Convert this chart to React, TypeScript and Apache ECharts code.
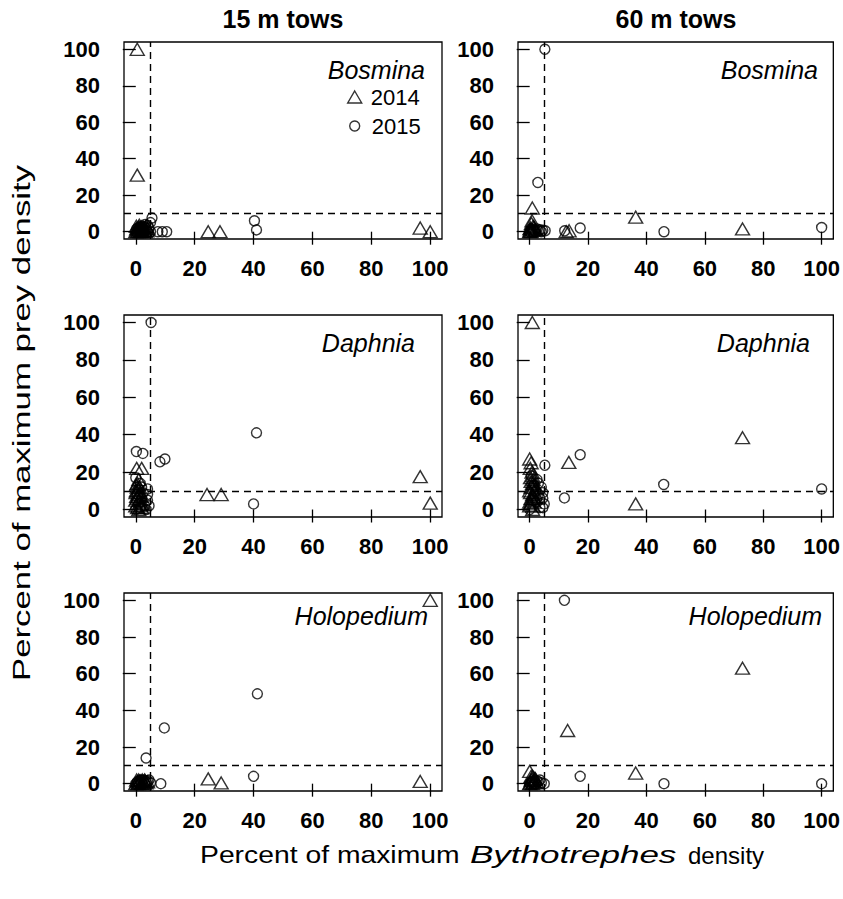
import React, { useEffect, useRef } from 'react';
import * as echarts from 'echarts';

// ---- tick labels / categories ----
const tickValues = [0, 20, 40, 60, 80, 100];
const columnTitles = ['15 m tows', '60 m tows'];
const taxa = ['Bosmina', 'Daphnia', 'Holopedium'];
const years = ['2014', '2015'];
const preyThreshold = 10;
const bythoThreshold = [5, 5];

// ---- data: [percent of max Bythotrephes density, percent of max prey density] ----
const bosmina15m2014 = [[0.5, 100], [0.5, 31], [24.6, 0], [28.6, 0], [96.6, 2], [100, 0], [0, 0], [0.5, 0.5], [1, 1], [1.5, 0], [2, 1.5], [2.5, 2.5], [3, 1], [3.5, 3], [1, 2.5], [0.3, 1.5], [2, 0], [4, 2], [0.2, 3], [1.2, 3.5], [2.2, 0.5], [2.8, 2], [3.2, 0], [0.8, 0], [1.8, 2.8], [3.8, 0.5]];
const bosmina15m2015 = [[7.5, 0], [9, 0], [10.5, 0], [40.3, 6], [41, 1], [0, 0], [0.5, 0], [1, 0.5], [1.5, 1], [2, 0.5], [2.5, 1.5], [3, 2.5], [3.5, 1], [4, 3.5], [4.5, 2], [5, 5], [5.5, 7.5], [5, 0], [4, 0], [0.3, 1.5], [1.2, 2.5], [2.2, 3], [3.2, 4], [2.8, 0], [1.8, 0], [0.8, 2]];
const bosmina60m2014 = [[0.9, 13], [0, 0], [0.3, 2], [0.6, 4.5], [1, 1], [1.5, 2.5], [0.2, 0.5], [12.5, 0], [13.5, 0.5], [36.3, 8], [72.9, 1.5], [0.5, 0], [1.2, 3], [0.8, 6], [2, 1], [0.1, 1.5]];
const bosmina60m2015 = [[5.2, 100], [2.8, 27], [3, 0.5], [5.3, 0.5], [4, 0], [2, 0], [1, 0], [0, 0], [12, 0.5], [17.3, 2], [46, 0], [100, 2.3], [0.5, 1.5], [1.5, 0.8], [2.5, 1.5], [3.5, 1], [4.5, 0.8]];

const daphnia15m2014 = [[24.2, 8], [29, 8], [96.6, 17.6], [100, 3.4], [0.3, 22], [2, 22], [0.5, 14], [0.2, 10], [1, 8], [0.5, 6], [1.5, 4], [0, 2], [1, 0], [2, 1], [0, 5], [1.5, 9], [2.5, 3], [0.5, 12], [1, 16], [0.2, 13], [1.2, 12], [0.8, 10], [1.8, 7], [0.3, 7], [1.2, 5], [2, 3], [0.6, 1], [1.6, 2], [0.1, 9]];
const daphnia15m2015 = [[5.2, 100], [0.2, 31], [2.4, 30], [8.2, 25.5], [9.9, 27], [41, 41], [40, 3], [0, 17], [0.5, 8], [1, 3], [2, 6], [3, 2], [4, 5], [4, 8], [3.5, 0], [0, 0], [2, 12], [4.5, 2], [1, 11], [1.5, 14], [0.2, 5], [1.5, 1], [2.5, 9], [4, 11]];
const daphnia60m2014 = [[0.9, 100], [13.4, 25.2], [36.3, 3], [72.9, 38.4], [0, 27], [0.5, 25], [0.8, 20], [0.3, 17], [1, 14], [0.5, 12], [0, 10], [1, 8], [0.5, 6], [1.5, 4], [0, 2], [1, 0], [2, 11], [0, 4], [0.2, 22], [1, 18], [1.2, 16], [0.5, 15], [1, 12], [0.3, 9], [1.3, 7], [0.8, 5], [0.2, 3], [1.2, 2], [1.8, 13], [1.8, 9], [1.8, 6]];
const daphnia60m2015 = [[5.2, 23.7], [11.9, 6.2], [17.3, 29.3], [45.9, 13.4], [100, 11], [4.5, 9], [4.5, 6], [5, 3], [3, 14], [2, 10], [0, 0], [1, 5], [3.5, 1], [0.5, 18], [2.5, 16], [3, 8], [4, 12], [1.5, 13], [2.5, 4], [4.5, 1], [3.5, 6]];

const holopedium15m2014 = [[100, 100], [24.6, 2.6], [29, 0.4], [96.6, 1.2], [0, 0], [0.5, 1], [1, 0.5], [1.5, 1.5], [2, 0], [2.5, 1], [3, 2], [3.5, 0.5], [4, 1], [1, 2], [0.3, 2], [1.2, 1], [2.2, 2], [3.2, 1.5], [0.8, 0], [2.8, 0]];
const holopedium15m2015 = [[41.3, 49], [9.7, 30.4], [3.5, 14], [40, 4], [8.5, 0], [0, 0], [1, 0.5], [2, 1], [3, 0.3], [4, 1.5], [5, 0.5], [2.5, 2], [0.5, 1], [1.5, 2], [3.5, 1], [4.5, 2]];
const holopedium60m2014 = [[72.9, 63], [13, 29], [36.3, 5.8], [0, 6.7], [0, 0], [0.5, 2], [1, 4], [1.5, 1], [0.3, 0.5], [2, 2.5], [1, 0], [0.8, 2.5], [1.2, 1.5], [0.5, 4], [2.5, 0.5], [1.8, 3]];
const holopedium60m2015 = [[11.9, 100], [17.3, 4], [46, 0], [100, 0], [3, 1], [5, 0], [2, 0], [1, 1], [0, 0], [4, 0.5], [2.5, 1.5], [3.5, 2], [1.5, 0.3], [0.5, 1]];

const panelData = [
  [[bosmina15m2014, bosmina15m2015], [bosmina60m2014, bosmina60m2015]],
  [[daphnia15m2014, daphnia15m2015], [daphnia60m2014, daphnia60m2015]],
  [[holopedium15m2014, holopedium15m2015], [holopedium60m2014, holopedium60m2015]],
];

// ---- layout ----
const gridLeft = [124, 518];
const gridWidth = [318, 319];
const gridTop = [42, 315, 593];
const gridHeight = [197, 202, 198];
const labelRight = [[425, 818], [415, 810], [428, 822]];
const labelY = [70, 343, 616];
const FONT = '"Liberation Sans", Arial, sans-serif';

export default function App() {
  const ref = useRef<HTMLDivElement>(null);
  useEffect(() => {
    const chart = echarts.init(ref.current!, null, { renderer: 'svg' });
    const grids: any[] = [];
    const xAxes: any[] = [];
    const yAxes: any[] = [];
    const series: any[] = [];
    const graphics: any[] = [];
    let idx = 0;
    for (let r = 0; r < 3; r++) {
      for (let c = 0; c < 2; c++) {
        grids.push({
          left: gridLeft[c], top: gridTop[r], width: gridWidth[c], height: gridHeight[r],
          show: true, borderColor: '#000', borderWidth: 1.3, backgroundColor: 'transparent',
        });
        const tickStyle = { show: true, length: 13, inside: false, lineStyle: { color: '#000', width: 1.3 }, customValues: tickValues };
        const labelStyle = { customValues: tickValues, color: '#000', fontFamily: FONT, fontSize: 22, fontWeight: 'bold' };
        xAxes.push({
          type: 'value', gridIndex: idx, min: -4, max: 104,
          axisLine: { show: false }, splitLine: { show: false },
          axisTick: tickStyle,
          axisLabel: { ...labelStyle, margin: 18 },
        });
        yAxes.push({
          type: 'value', gridIndex: idx, min: -4, max: 104,
          axisLine: { show: false }, splitLine: { show: false },
          axisTick: tickStyle,
          axisLabel: { ...labelStyle, margin: 24 },
        });
        const [d14, d15] = panelData[r][c];
        series.push({
          type: 'scatter', name: years[0], xAxisIndex: idx, yAxisIndex: idx, data: d14,
          symbol: 'triangle', symbolSize: [14, 12],
          itemStyle: { color: 'rgba(0,0,0,0)', borderColor: '#000', borderWidth: 1.4 },
          silent: true,
          markLine: {
            silent: true, symbol: ['none', 'none'], label: { show: false },
            lineStyle: { color: '#000', type: [7, 5], width: 1.4 },
            data: [{ xAxis: bythoThreshold[c] }, { yAxis: preyThreshold }],
          },
        });
        series.push({
          type: 'scatter', name: years[1], xAxisIndex: idx, yAxisIndex: idx, data: d15,
          symbol: 'circle', symbolSize: 10,
          itemStyle: { color: 'rgba(0,0,0,0)', borderColor: '#000', borderWidth: 1.4 },
          silent: true,
        });
        graphics.push({
          type: 'text', x: labelRight[r][c], y: labelY[r],
          style: { text: taxa[r], textAlign: 'right', textVerticalAlign: 'middle', font: `italic 25px ${FONT}`, fill: '#000' },
        });
        idx++;
      }
    }
    graphics.push(
      { type: 'text', x: 283, y: 19, style: { text: columnTitles[0], textAlign: 'center', textVerticalAlign: 'middle', font: `bold 25px ${FONT}`, fill: '#000' } },
      { type: 'text', x: 676, y: 19, style: { text: columnTitles[1], textAlign: 'center', textVerticalAlign: 'middle', font: `bold 25px ${FONT}`, fill: '#000' } },
      { type: 'text', x: 22, y: 423, rotation: Math.PI / 2, scaleX: 1.45, style: { text: 'Percent of maximum prey density', textAlign: 'center', textVerticalAlign: 'middle', font: `24px ${FONT}`, fill: '#000' } },
      { type: 'text', x: 200, y: 855, scaleX: 1.18, style: { text: 'Percent of maximum', textAlign: 'left', textVerticalAlign: 'middle', font: `24px ${FONT}`, fill: '#000' } },
      { type: 'text', x: 470, y: 855, scaleX: 1.46, style: { text: 'Bythotrephes', textAlign: 'left', textVerticalAlign: 'middle', font: `italic 24px ${FONT}`, fill: '#000' } },
      { type: 'text', x: 688, y: 855, style: { text: 'density', textAlign: 'left', textVerticalAlign: 'middle', font: `24px ${FONT}`, fill: '#000' } },
    );
    const option = {
      animation: false,
      backgroundColor: '#fff',
      grid: grids,
      xAxis: xAxes,
      yAxis: yAxes,
      series,
      legend: [
        {
          data: [{ name: years[0], icon: 'triangle' }], left: 342, top: 81, itemWidth: 14, itemHeight: 12, selectedMode: false,
          itemStyle: { color: 'rgba(0,0,0,0)', borderColor: '#000', borderWidth: 1.4 },
          textStyle: { fontFamily: FONT, fontSize: 22, color: '#000', padding: [0, 0, 0, 4] },
        },
        {
          data: [{ name: years[1], icon: 'circle' }], left: 344, top: 110, itemWidth: 10, itemHeight: 10, selectedMode: false,
          itemStyle: { color: 'rgba(0,0,0,0)', borderColor: '#000', borderWidth: 1.4 },
          textStyle: { fontFamily: FONT, fontSize: 22, color: '#000', padding: [0, 0, 0, 7] },
        },
      ],
      graphic: graphics,
    };
    chart.setOption(option as any);
    return () => chart.dispose();
  }, []);
  return <div ref={ref} style={{ position: 'absolute', left: 0, top: 0, width: 843, height: 899 }} />;
}
